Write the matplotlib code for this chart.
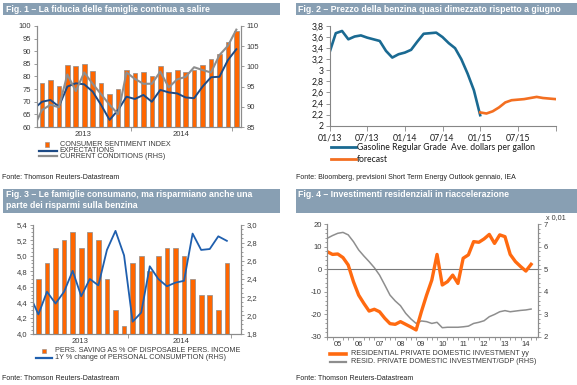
import numpy as np
import matplotlib
matplotlib.use('Agg')
import matplotlib.pyplot as plt
from matplotlib import font_manager
from matplotlib.patches import Rectangle
from matplotlib.lines import Line2D
from matplotlib.ticker import MultipleLocator, FuncFormatter

plt.rcParams['axes.unicode_minus'] = False

W, H = 577, 385

installed = {f.name for f in font_manager.fontManager.ttflist}
NARROW = 'Liberation Sans Narrow' if 'Liberation Sans Narrow' in installed else 'Liberation Sans'
HEAD_SIZE = 7.6 if NARROW == 'Liberation Sans Narrow' else 6.3
SRC_SIZE = 5.9 if NARROW == 'Liberation Sans Narrow' else 5.0
plt.rcParams['font.family'] = 'Liberation Sans'

# ---- Fig. 1: consumer sentiment, Feb 2013 - Jan 2015 ----
sentiment = [77.6, 78.6, 76.4, 84.5, 84.1, 85.1, 82.1, 77.5, 73.2, 75.1, 82.5, 81.2,
             81.6, 80.0, 84.1, 81.9, 82.5, 81.8, 82.5, 84.6, 86.9, 88.8, 93.6, 98.2]
# lines start one month earlier (cut by the axis)
expectations = [67.1, 70.0, 70.7, 68.1, 76.0, 77.3, 76.9, 74.0, 68.7, 62.8, 66.7, 72.0, 71.1,
                72.7, 70.0, 74.7, 73.7, 73.3, 71.7, 71.4, 76.0, 79.7, 79.9, 86.5, 90.8]
current = [84.8, 89.2, 90.5, 89.9, 98.0, 93.9, 98.5, 95.7, 93.1, 90.5, 88.2, 98.5, 96.9,
           95.7, 95.7, 98.7, 94.8, 96.8, 97.4, 99.8, 99.1, 98.5, 102.8, 105.1, 109.1]
years_1314 = ['2013', '2014']

# ---- Fig. 2: gasoline price, monthly from Jan 2013 ----
gas_ticks = ['01/13', '07/13', '01/14', '07/14', '01/15', '07/15', '']
gasoline = [3.32, 3.67, 3.71, 3.56, 3.61, 3.63, 3.59, 3.56, 3.53, 3.35, 3.23, 3.29, 3.32,
            3.37, 3.52, 3.66, 3.67, 3.68, 3.60, 3.49, 3.40, 3.20, 2.94, 2.64, 2.19]
gas_forecast = [2.24, 2.22, 2.26, 2.33, 2.42, 2.46, 2.47, 2.48, 2.50, 2.52, 2.50, 2.49, 2.48]

# ---- Fig. 3: saving rate and consumption ----
saving = [4.7, 4.9, 5.1, 5.2, 5.3, 5.1, 5.3, 5.2, 4.7, 4.3, 4.1, 4.9,
          5.0, 4.8, 5.0, 5.1, 5.1, 5.0, 4.7, 4.5, 4.5, 4.3, 4.9]
consumption = [2.22, 2.01, 2.26, 2.13, 2.26, 2.49, 2.21, 2.40, 2.33, 2.72, 2.93, 2.66,
               1.93, 2.03, 2.54, 2.40, 2.32, 2.36, 2.38, 2.90, 2.72, 2.73, 2.87, 2.82]

# ---- Fig. 4: residential investment, quarterly from 2005 ----
resid_yoy = [7.8, 6.6, 6.8, 5.2, 1.9, -5.5, -11.5, -15.2, -18.6, -17.8, -18.9, -21.8,
             -24.2, -24.5, -23.3, -24.5, -25.7, -27.0, -18.9, -11.5, -4.8, 6.6, -7.0, -5.5,
             -2.6, -6.3, 4.9, 6.4, 12.3, 12.0, 13.5, 15.5, 11.5, 15.3, 14.5, 6.6,
             3.4, 1.2, -0.8, 2.2]
resid_gdp = [6.38, 6.50, 6.60, 6.64, 6.53, 6.23, 5.86, 5.59, 5.34, 5.07, 4.74, 4.30,
             3.85, 3.59, 3.38, 3.04, 2.79, 2.59, 2.70, 2.67, 2.59, 2.64, 2.40, 2.42,
             2.42, 2.42, 2.44, 2.47, 2.59, 2.64, 2.71, 2.89, 2.99, 3.11, 3.16, 3.11,
             3.14, 3.17, 3.19, 3.23]
years_05_14 = ['05', '06', '07', '08', '09', '10', '11', '12', '13', '14']

HEAD = '#889fb3'
ORANGE = '#ff6600'
NAVY = '#1d4a86'
GREY = '#8e8e8e'
AXC = '#8c8c8c'
LABEL = '#3a3a3a'

fig = plt.figure(figsize=(W / 100, H / 100), dpi=100)


def px_axes(l, t, r, b):
    return fig.add_axes([l / W, 1 - b / H, (r - l) / W, (b - t) / H])


def ftext(x, y, s, **kw):
    kw.setdefault('va', 'center')
    fig.text(x / W, 1 - y / H, s, **kw)


def header(l, t, r, b, lines, ys):
    fig.add_artist(Rectangle((l / W, 1 - b / H), (r - l) / W, (b - t) / H,
                             transform=fig.transFigure, facecolor=HEAD, edgecolor='none'))
    for s, y in zip(lines, ys):
        ftext(l + 2.5, y, s, color='white', fontweight='bold', family=NARROW, fontsize=HEAD_SIZE)


def legline(x0, x1, y, **kw):
    fig.add_artist(Line2D([x0 / W, x1 / W], [1 - y / H, 1 - y / H], transform=fig.transFigure, **kw))


def legsquare(x, y, s=4.2):
    fig.add_artist(Rectangle(((x - s / 2) / W, 1 - (y + s / 2) / H), s / W, s / H,
                             transform=fig.transFigure, facecolor=ORANGE, edgecolor='#8c8c8c', lw=0.4))


def style(ax, size=5.5):
    for s in ax.spines.values():
        s.set_color(AXC)
        s.set_linewidth(0.8)
    ax.spines['top'].set_visible(False)
    ax.tick_params(which='both', colors=AXC, labelcolor=LABEL, labelsize=size, width=0.6, pad=1.5)
    ax.tick_params(which='major', length=2.5)
    ax.tick_params(which='minor', length=1.5)


comma1 = FuncFormatter(lambda v, p: f'{v:.1f}'.replace('.', ','))

# ================= Fig. 1 =================
header(3, 3, 280, 15, ['Fig. 1 – La fiducia delle famiglie continua a salire'], [9])
ax1 = px_axes(37, 26, 241, 127)
x1 = np.arange(len(sentiment))
xl1 = np.arange(-1, len(sentiment))
ax1.bar(x1, sentiment, width=0.55, color=ORANGE, edgecolor=AXC, linewidth=0.5)
ax1.plot(xl1, expectations, color=NAVY, lw=1.4)
ax1.set_xlim(-0.59, 23.55)
ax1.set_ylim(60, 100)
ax1.yaxis.set_major_locator(MultipleLocator(5))
ax1r = ax1.twinx()
ax1r.plot(xl1, current, color=GREY, lw=1.5)
ax1r.set_ylim(85, 110)
ax1r.yaxis.set_major_locator(MultipleLocator(5))
for a in (ax1, ax1r):
    style(a)
ax1.set_xticks([4.8, 16.5], years_1314)
ax1.set_xticks([10.5, 22.5], minor=True)
ax1.tick_params(axis='x', which='major', length=0, pad=3)
ax1.tick_params(axis='x', which='minor', length=3)

legsquare(47, 144.5)
legline(39, 57, 150.7, color=NAVY, lw=1.6)
legline(39, 57, 155.5, color=GREY, lw=1.6)
ftext(59.5, 144.3, 'CONSUMER SENTIMENT INDEX', fontsize=5.2, color=LABEL)
ftext(59.5, 150.5, 'EXPECTATIONS', fontsize=5.2, color=LABEL)
ftext(59.5, 156.7, 'CURRENT CONDITIONS (RHS)', fontsize=5.2, color=LABEL)
ftext(2, 177.5, 'Fonte: Thomson Reuters-Datastream', fontsize=SRC_SIZE, color='#222222', family=NARROW)

# ================= Fig. 2 =================
header(296, 3, 577, 15, ['Fig. 2 – Prezzo della benzina quasi dimezzato rispetto a giugno'], [9])
ax2 = px_axes(329.5, 26, 555.5, 125.7)
ax2.plot(np.arange(len(gasoline)), gasoline, color='#1a6a92', lw=1.9, solid_joinstyle='round')
ax2.plot(np.arange(24, 24 + len(gas_forecast)), gas_forecast, color='#f36f21', lw=1.9,
         solid_joinstyle='round')
ax2.set_xlim(0, 36)
ax2.set_ylim(2, 3.8)
for s in ax2.spines.values():
    s.set_color('#868686')
    s.set_linewidth(0.8)
ax2.spines['top'].set_visible(False)
ax2.spines['right'].set_visible(False)
ax2.set_xticks(np.arange(0, 37, 6), gas_ticks)
ax2.yaxis.set_major_locator(MultipleLocator(0.2))
ax2.yaxis.set_major_formatter(FuncFormatter(lambda v, p: f'{v:.1f}'.rstrip('0').rstrip('.').replace('.', ',')))
ax2.tick_params(colors='#868686', labelcolor='#1a1a1a', labelsize=6.3, width=0.6, length=2.8, pad=1.5)
ax2.tick_params(axis='x', length=3.5, pad=2)
for lab in ax2.get_xticklabels() + ax2.get_yticklabels():
    lab.set_family('Lato')
legline(331, 356, 147, color='#1a6a92', lw=2.0)
legline(331, 356, 159, color='#f36f21', lw=2.0)
ftext(357, 147, 'Gasoline Regular Grade  Ave. dollars per gallon', fontsize=6.2, family='Lato', color='#1a1a1a')
ftext(357, 159, 'forecast', fontsize=6.2, family='Lato', color='#1a1a1a')
ftext(296, 177.5, 'Fonte: Bloomberg, previsioni Short Term Energy Outlook gennaio, IEA',
      fontsize=SRC_SIZE, color='#222222', family=NARROW)

# ================= Fig. 3 =================
header(3, 189, 280, 212.5, ['Fig. 3 – Le famiglie consumano, ma risparmiano anche una',
                            'parte dei risparmi sulla benzina'], [195, 206])
ax3 = px_axes(33, 224.5, 241, 333.5)
x3 = np.arange(len(saving))
ax3.bar(x3, saving, width=0.55, color=ORANGE, edgecolor=AXC, linewidth=0.5)
ax3.set_xlim(-0.63, 23.65)
ax3.set_ylim(4.0, 5.4)
ax3.yaxis.set_major_locator(MultipleLocator(0.2))
ax3.yaxis.set_minor_locator(MultipleLocator(0.05))
ax3.yaxis.set_major_formatter(comma1)
ax3r = ax3.twinx()
ax3r.plot(np.arange(-1, len(saving)), consumption, color='#1f5fae', lw=1.3)
ax3r.set_ylim(1.8, 3.0)
ax3r.yaxis.set_major_locator(MultipleLocator(0.2))
ax3r.yaxis.set_minor_locator(MultipleLocator(0.05))
ax3r.yaxis.set_major_formatter(comma1)
for a in (ax3, ax3r):
    style(a)
ax3.set_xticks([4.8, 16.6], years_1314)
ax3.set_xticks([10.5, 22.5], minor=True)
ax3.tick_params(axis='x', which='major', length=0, pad=3)
ax3.tick_params(axis='x', which='minor', length=3)

legsquare(44, 351)
legline(36, 52, 358.3, color='#1f5fae', lw=1.6)
ftext(55, 350.7, 'PERS. SAVING AS % OF DISPOSABLE PERS. INCOME', fontsize=5.2, color=LABEL)
ftext(55, 357.7, '1Y % change of PERSONAL CONSUMPTION (RHS)', fontsize=5.2, color=LABEL)
ftext(2, 378.5, 'Fonte: Thomson Reuters-Datastream', fontsize=SRC_SIZE, color='#222222', family=NARROW)

# ================= Fig. 4 =================
header(296, 189, 577, 212.5, ['Fig. 4 – Investimenti residenziali in riaccelerazione'], [195])
ax4 = px_axes(327.3, 224.3, 538, 336.7)
xq = 2005 + np.arange(len(resid_yoy)) / 4
ax4r = ax4.twinx()
ax4r.plot(xq, resid_gdp, color=GREY, lw=1.1)
ax4.axhline(0, color='#7a7a7a', lw=0.8)
ax4.plot(xq, resid_yoy, color='#ff6a10', lw=2.4, solid_joinstyle='round')
ax4.set_zorder(ax4r.get_zorder() + 1)
ax4.patch.set_visible(False)
ax4.set_xlim(2005, 2015.08)
ax4.set_ylim(-30, 20)
ax4r.set_ylim(2, 7)
ax4.yaxis.set_major_locator(MultipleLocator(10))
ax4.yaxis.set_minor_locator(MultipleLocator(2))
ax4r.yaxis.set_major_locator(MultipleLocator(1))
ax4r.yaxis.set_minor_locator(MultipleLocator(0.2))
for a in (ax4, ax4r):
    style(a)
ax4.set_xticks(np.arange(2005, 2015) + 0.5, years_05_14)
ax4.set_xticks(np.arange(2005, 2015.1, 0.25), minor=True)
ax4.tick_params(axis='x', which='major', length=0, pad=3)
ax4.tick_params(axis='x', which='minor', length=2)
ftext(546, 218, 'x 0,01', fontsize=5.2, color=LABEL)

legline(330, 346, 354.3, color='#ff6a10', lw=2.6)
legline(330, 346, 362.3, color=GREY, lw=1.6)
ftext(350.7, 353.7, 'RESIDENTIAL PRIVATE DOMESTIC INVESTMENT yy', fontsize=5.2, color=LABEL)
ftext(350.7, 361.5, 'RESID. PRIVATE DOMESTIC INVESTMENT/GDP (RHS)', fontsize=5.2, color=LABEL)
ftext(296, 378.5, 'Fonte: Thomson Reuters-Datastream', fontsize=SRC_SIZE, color='#222222', family=NARROW)

fig.savefig('out.png', dpi=100)
